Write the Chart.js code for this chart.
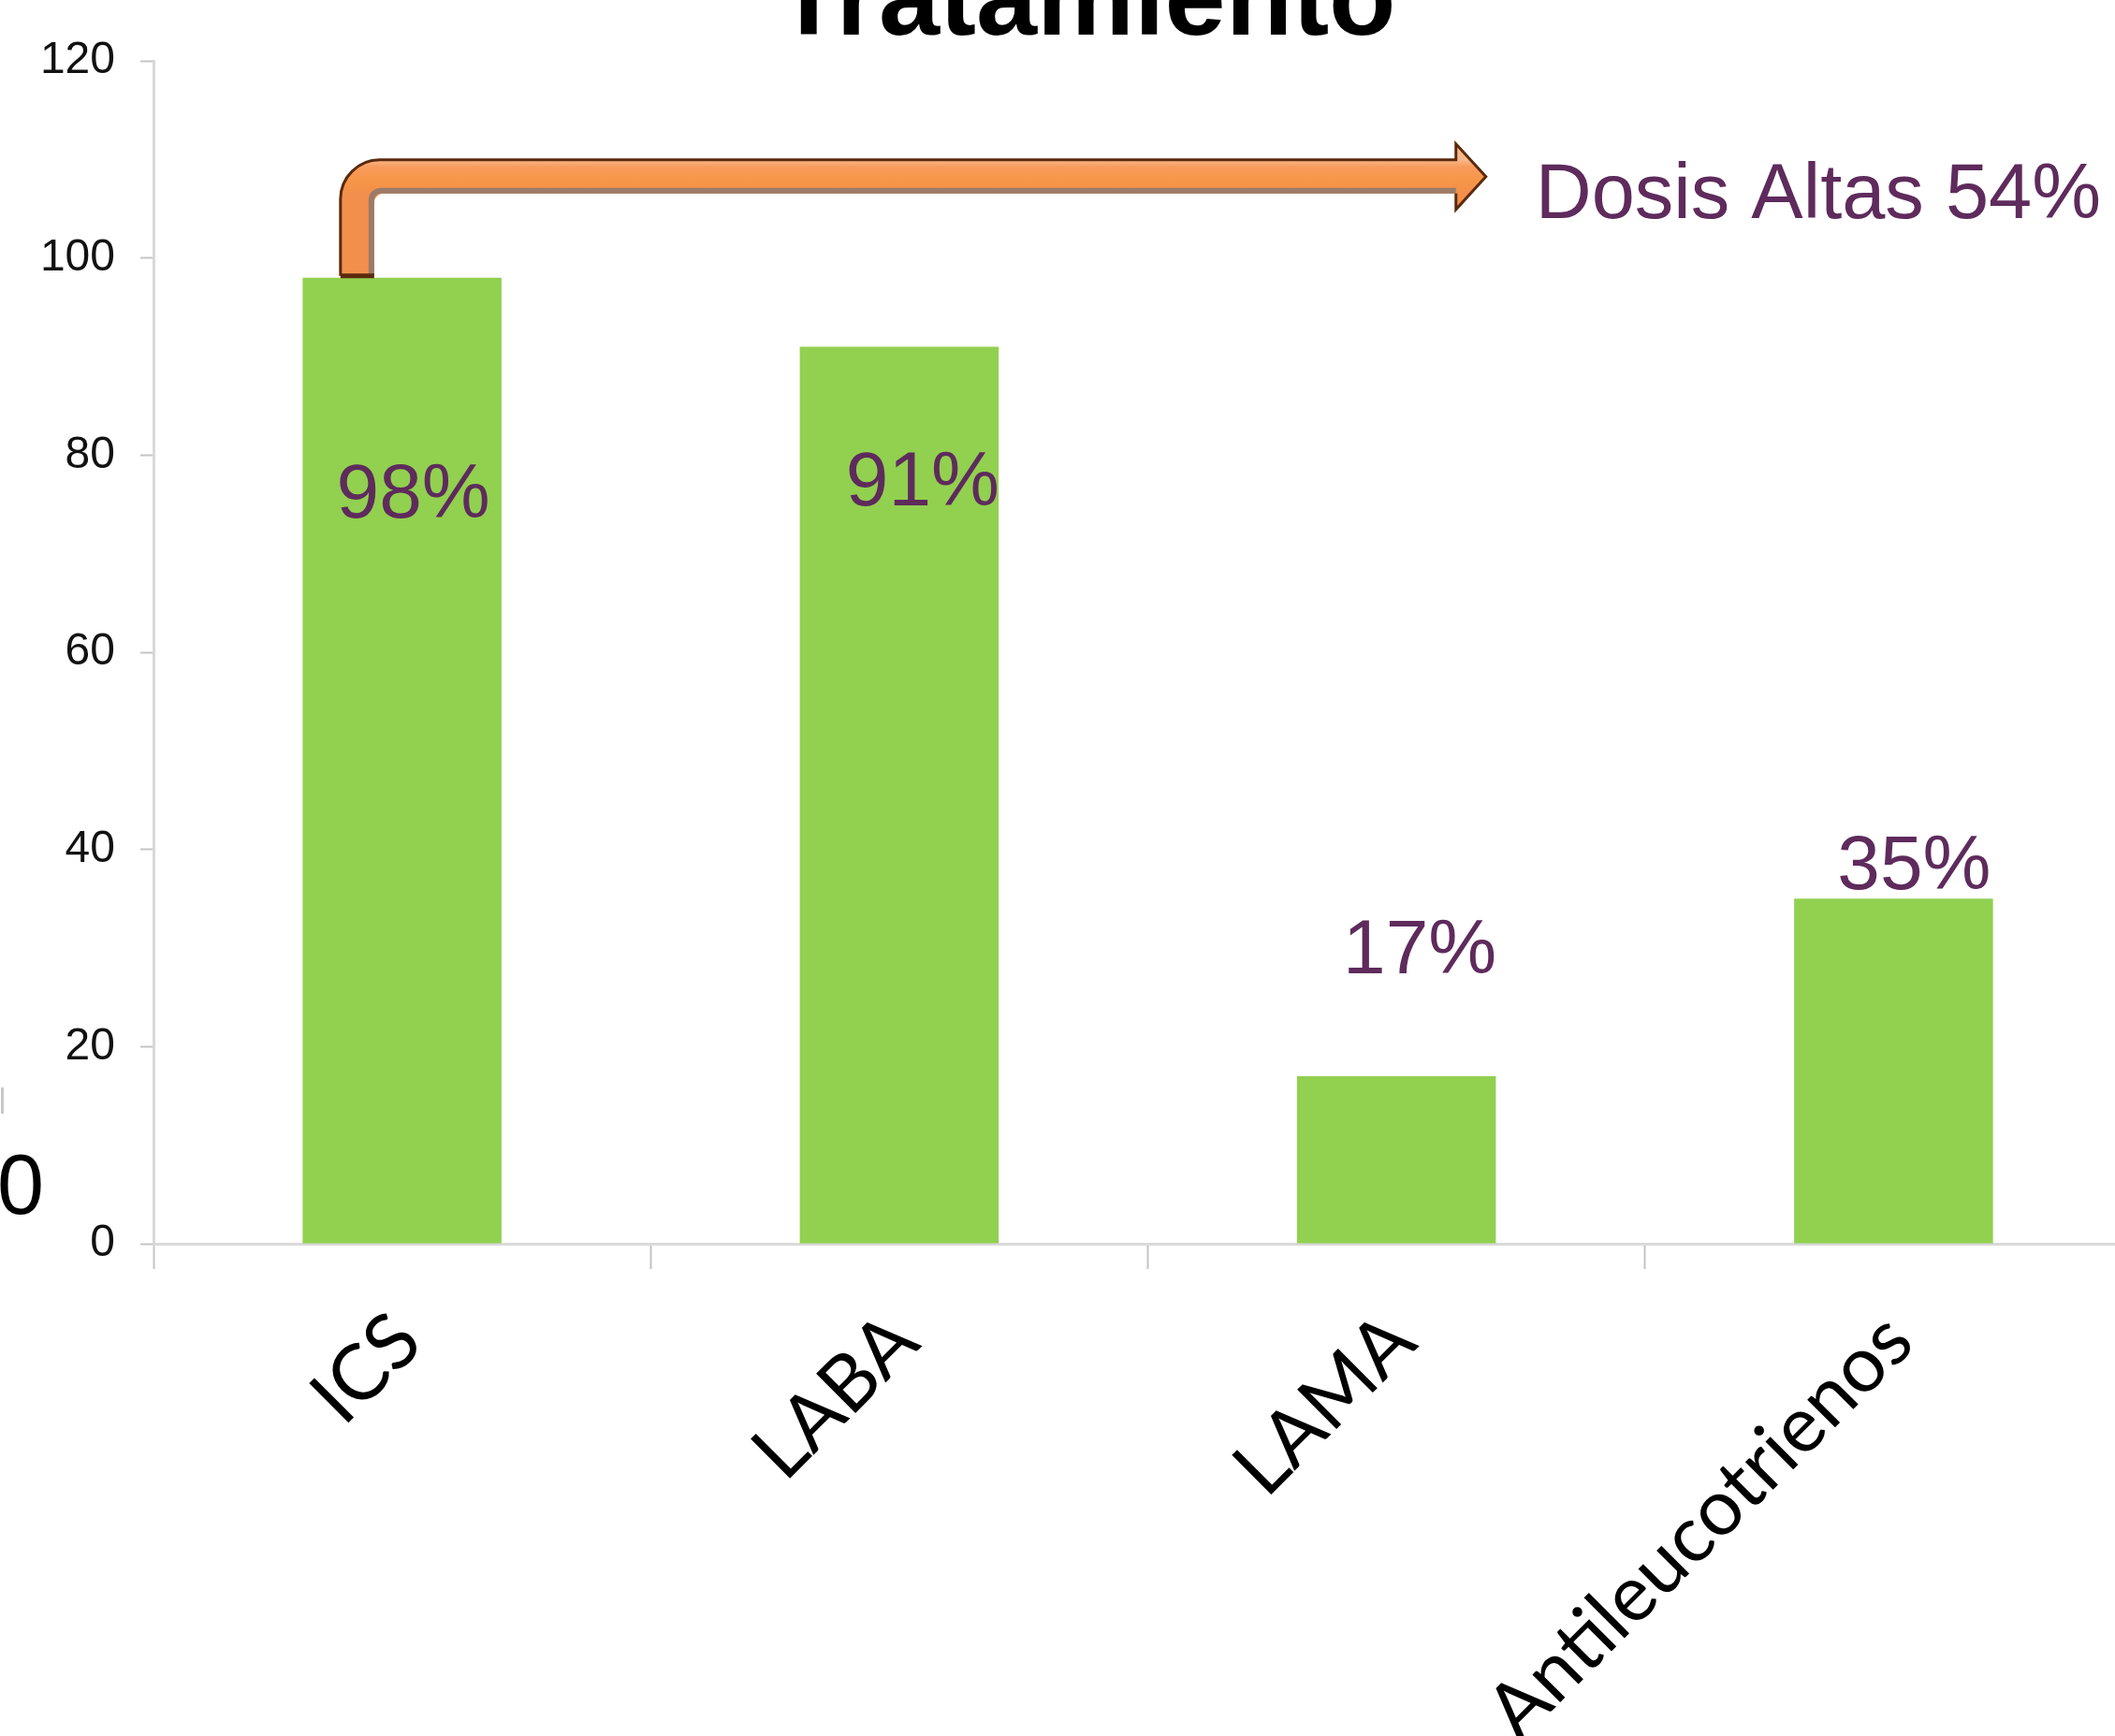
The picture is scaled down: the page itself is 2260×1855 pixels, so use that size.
<!DOCTYPE html>
<html>
<head>
<meta charset="utf-8">
<script src="https://cdn.jsdelivr.net/npm/chart.js@4.4.1/dist/chart.umd.min.js"></script>
<style>
  html, body { margin:0; padding:0; background:#fff; }
  body { width:2260px; height:1855px; overflow:hidden; position:relative; }
  #wrap { position:absolute; left:0; top:-71px; width:2334px; height:1926px; }
  #c { display:block; }
  .side0 { position:absolute; left:-3px; top:1221px; font:90px 'Liberation Sans', Arial, sans-serif; line-height:1; color:#000; }
  .sidemark { position:absolute; left:1px; top:1162px; width:3px; height:28px; background:#c8c8c8; }
</style>
</head>
<body>
<div id="wrap"><canvas id="c" width="2334" height="1926"></canvas></div>
<div class="side0">0</div>
<div class="sidemark"></div>
<script>
// ---- data ----
const categories = ['ICS', 'LABA', 'LAMA', 'Antileucotrienos'];
const values = [98, 91, 17, 35];
const yTickValues = [0, 20, 40, 60, 80, 100, 120];
const chartTitle = 'Tratamiento';
const highDoseText = 'Dosis Altas';
const highDosePct = [54];

// ---- styles ----
const SANS = "'Liberation Sans', Arial, sans-serif";
const LABEL_FONT = "Lato, 'Liberation Sans', sans-serif";
const PURPLE = '#5e2b5c';
const GREEN = '#92d050';

const valueLabelPlugin = {
  id: 'valueLabels',
  afterDatasetsDraw(chart, args, opts) {
    const meta = chart.getDatasetMeta(0);
    const ctx = chart.ctx;
    ctx.save();
    ctx.font = opts.font;
    ctx.fillStyle = opts.color;
    ctx.textAlign = 'center';
    ctx.textBaseline = 'alphabetic';
    meta.data.forEach((bar, i) => {
      ctx.fillText(values[i] + '%', bar.x + opts.dx[i], bar.y + opts.dy[i]);
    });
    ctx.restore();
  }
};

const arrowPlugin = {
  id: 'doseArrow',
  afterDatasetsDraw(chart, args, o) {
    const xs = chart.scales.x, ys = chart.scales.y, ctx = chart.ctx;
    const catW = xs.getPixelForValue(1) - xs.getPixelForValue(0);
    const x0 = xs.getPixelForValue(0) + o.startFrac * catW;
    const yBar = ys.getPixelForValue(values[0]) - 2;
    const yc = ys.getPixelForValue(o.levelValue);
    const tipX = xs.getPixelForValue(o.tipIndex);
    const t = o.half, hl = o.headLen, hh = o.headHalf;
    const L = x0 - t, Rr = x0 + t, T = yc - t, B = yc + t, hb = tipX - hl;

    ctx.save();
    ctx.beginPath();
    ctx.moveTo(L, yBar);
    ctx.lineTo(L, T + o.outerR);
    ctx.arcTo(L, T, L + o.outerR, T, o.outerR);
    ctx.lineTo(hb, T);
    ctx.lineTo(hb, yc - hh);
    ctx.lineTo(tipX, yc);
    ctx.lineTo(hb, yc + hh);
    ctx.lineTo(hb, B);
    ctx.lineTo(Rr + o.innerR, B);
    ctx.arcTo(Rr, B, Rr, B + o.innerR, o.innerR);
    ctx.lineTo(Rr, yBar);
    ctx.closePath();
    const g = ctx.createLinearGradient(0, T, 0, B);
    g.addColorStop(0, '#f8b88c');
    g.addColorStop(0.2, '#f89c5e');
    g.addColorStop(0.6, '#f79646');
    g.addColorStop(1, '#f28f4c');
    ctx.fillStyle = g;
    ctx.fill();

    ctx.beginPath();
    ctx.moveTo(hb, B - 3);
    ctx.lineTo(Rr + o.innerR, B - 3);
    ctx.arcTo(Rr - 3, B - 3, Rr - 3, B + o.innerR, o.innerR);
    ctx.lineTo(Rr - 3, yBar);
    ctx.strokeStyle = '#9c7b69';
    ctx.lineWidth = 6;
    ctx.stroke();

    ctx.beginPath();
    ctx.moveTo(L, yBar);
    ctx.lineTo(L, T + o.outerR);
    ctx.arcTo(L, T, L + o.outerR, T, o.outerR);
    ctx.lineTo(hb, T);
    ctx.lineTo(hb, yc - hh);
    ctx.lineTo(tipX, yc);
    ctx.lineTo(hb, yc + hh);
    ctx.lineTo(hb, B);
    ctx.strokeStyle = '#5a2a0c';
    ctx.lineWidth = 3;
    ctx.lineJoin = 'miter';
    ctx.stroke();
    ctx.beginPath();
    ctx.moveTo(L, yBar);
    ctx.lineTo(Rr, yBar);
    ctx.lineWidth = 5;
    ctx.stroke();

    ctx.font = o.font;
    ctx.fillStyle = o.color;
    ctx.textAlign = 'left';
    ctx.textBaseline = 'alphabetic';
    ctx.fillText(highDoseText + ' ' + highDosePct[0] + '%', tipX + o.textGap, yc + o.textDrop);
    ctx.restore();
  }
};

function draw() {
  new Chart(document.getElementById('c'), {
    type: 'bar',
    data: {
      labels: categories,
      datasets: [{
        data: values,
        backgroundColor: GREEN,
        borderWidth: 0,
        categoryPercentage: 0.8,
        barPercentage: 0.5
      }]
    },
    options: {
      responsive: false,
      devicePixelRatio: 1,
      animation: false,
      layout: { padding: { left: 31, right: 45, top: 0, bottom: 0 } },
      plugins: {
        legend: { display: false },
        tooltip: { enabled: false },
        title: {
          display: true,
          text: chartTitle,
          color: '#000',
          font: { family: SANS, size: 117, weight: 'bold', lineHeight: 1 },
          padding: { top: 17, bottom: 2 }
        },
        valueLabels: {
          font: '82px ' + SANS,
          color: PURPLE,
          dx: [12, 25, 25, 22],
          dy: [256, 170, -110, -10]
        },
        doseArrow: {
          startFrac: -0.09,
          levelValue: 108.25,
          tipIndex: 2.18,
          half: 18,
          headLen: 32,
          headHalf: 35,
          outerR: 42,
          innerR: 10,
          font: '83px ' + SANS,
          color: PURPLE,
          textGap: 53,
          textDrop: 44
        }
      },
      scales: {
        x: {
          grid: {
            display: true, drawOnChartArea: false, drawTicks: true, offset: true,
            tickLength: 27, tickWidth: 2, tickColor: '#c4c4c4', color: '#c4c4c4'
          },
          border: { display: true, color: '#d9d9d9', width: 3 },
          ticks: {
            font: { family: LABEL_FONT, size: 83 },
            color: '#000',
            minRotation: 45, maxRotation: 45,
            autoSkip: false,
            padding: 28,
            labelOffset: 6
          },
          afterFit: (s) => { s.height = 526; }
        },
        y: {
          min: 0, max: 120,
          afterBuildTicks: (s) => { s.ticks = yTickValues.map(v => ({ value: v })); },
          grid: {
            display: true, drawOnChartArea: false, drawTicks: true,
            tickLength: 14, tickWidth: 2, tickColor: '#c4c4c4', color: '#c4c4c4'
          },
          border: { display: true, color: '#d9d9d9', width: 3 },
          ticks: {
            font: { family: SANS, size: 48 },
            color: '#111',
            padding: 27
          },
          afterFit: (s) => { s.width = 133; }
        }
      }
    },
    plugins: [valueLabelPlugin, arrowPlugin]
  });
}

Promise.all([
  document.fonts.load('83px Lato'),
  document.fonts.load("48px 'Liberation Sans'"),
  document.fonts.load("bold 117px 'Liberation Sans'")
]).then(draw, draw);
</script>
</body>
</html>
